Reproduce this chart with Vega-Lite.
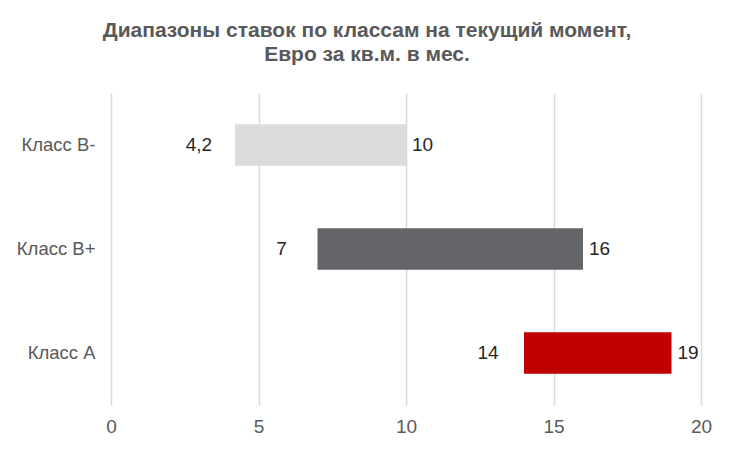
{
  "$schema": "https://vega.github.io/schema/vega-lite/v6.json",
  "width": 590,
  "height": 312,
  "autosize": "none",
  "padding": {"left": 111, "top": 93, "right": 34, "bottom": 49},
  "background": "white",
  "title": {
    "text": ["Диапазоны ставок по классам на текущий момент,", "Евро за кв.м. в мес."],
    "font": "Liberation Sans",
    "fontSize": 21,
    "fontWeight": "bold",
    "color": "#595959",
    "dx": -39,
    "offset": 28,
    "lineHeight": 24
  },
  "config": {
    "view": {"stroke": null},
    "font": "Liberation Sans",
    "locale": {"number": {"decimal": ",", "thousands": " ", "grouping": [3], "currency": ["", " €"]}}
  },
  "data": {
    "values": [
      {"cls": "Класс B-", "start": 4.2, "end": 10},
      {"cls": "Класс B+", "start": 7, "end": 16},
      {"cls": "Класс A", "start": 14, "end": 19}
    ]
  },
  "encoding": {
    "y": {
      "field": "cls",
      "type": "nominal",
      "sort": ["Класс B-", "Класс B+", "Класс A"],
      "scale": {"paddingInner": 0.6, "paddingOuter": 0.3},
      "axis": {
        "title": null,
        "domain": false,
        "ticks": false,
        "labelPadding": 16,
        "labelFontSize": 18.5,
        "labelColor": "#595959",
        "labelFont": "Liberation Sans"
      }
    }
  },
  "layer": [
    {
      "mark": {"type": "bar"},
      "encoding": {
        "x": {
          "field": "start",
          "type": "quantitative",
          "scale": {"domain": [0, 20]},
          "axis": {
            "title": null,
            "values": [0, 5, 10, 15, 20],
            "grid": true,
            "gridColor": "#d9d9d9",
            "gridWidth": 1.5,
            "domain": false,
            "ticks": false,
            "labelFlush": false,
            "labelPadding": 12,
            "labelFontSize": 19,
            "labelColor": "#595959",
            "labelFont": "Liberation Sans"
          }
        },
        "x2": {"field": "end"},
        "color": {
          "field": "cls",
          "type": "nominal",
          "scale": {"domain": ["Класс B-", "Класс B+", "Класс A"], "range": ["#dcdcdc", "#646569", "#c00000"]},
          "legend": null
        }
      }
    },
    {
      "mark": {"type": "text", "align": "center", "baseline": "middle", "dx": -36, "fontSize": 19, "color": "#262626"},
      "encoding": {
        "x": {"field": "start", "type": "quantitative"},
        "text": {"field": "start", "type": "quantitative", "format": ".1~f"}
      }
    },
    {
      "mark": {"type": "text", "align": "left", "baseline": "middle", "dx": 6, "fontSize": 19, "color": "#262626"},
      "encoding": {
        "x": {"field": "end", "type": "quantitative"},
        "text": {"field": "end", "type": "quantitative", "format": ".1~f"}
      }
    }
  ]
}
